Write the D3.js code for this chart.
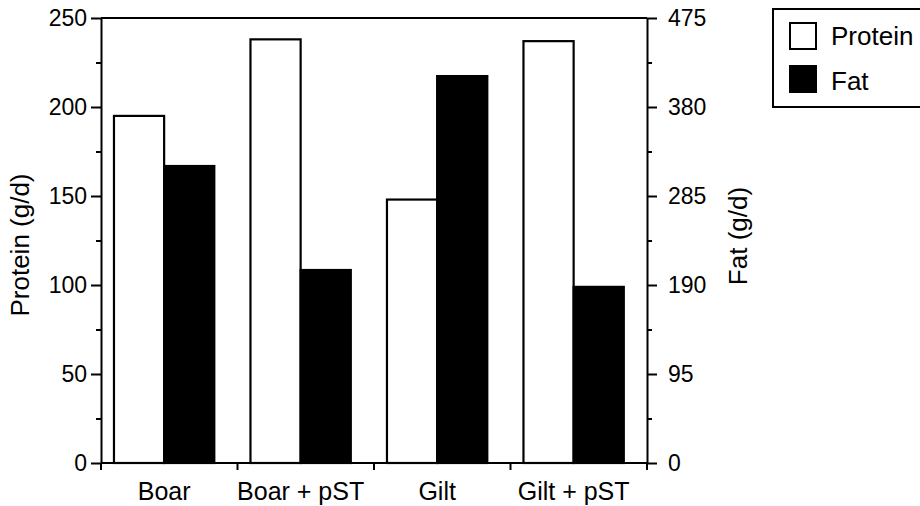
<!DOCTYPE html>
<html>
<head>
<meta charset="utf-8">
<script src="https://cdn.jsdelivr.net/npm/d3@7/dist/d3.min.js"></script>
<style>
  html, body { margin: 0; padding: 0; background: #fff; }
  svg { display: block; }
  text { font-family: "Liberation Sans", Arial, Helvetica, sans-serif; fill: #000; }
</style>
</head>
<body>
<svg id="chart" width="920" height="506"></svg>
<script>
// ---- data ----
const categories = ["Boar", "Boar + pST", "Gilt", "Gilt + pST"];
const seriesNames = ["Protein", "Fat"];
const proteinValues = [195, 238, 148, 237];   // g/d, left axis
const fatValues = [317, 206, 413, 188];       // g/d, right axis
const proteinTicks = [0, 50, 100, 150, 200, 250];
const proteinMinorTicks = [25, 75, 125, 175, 225];
const fatTicks = [0, 95, 190, 285, 380, 475];
const fatMinorTicks = [47.5, 142.5, 237.5, 332.5, 427.5];
const seriesFill = { Protein: "#ffffff", Fat: "#000000" };

// ---- layout ----
const svg = d3.select("#chart");
const pLeft = 101, pRight = 647, pTop = 18, pBottom = 463;
const FONT = "Liberation Sans, Arial, Helvetica, sans-serif";

const x0 = d3.scaleBand().domain(categories).range([pLeft, pRight]).padding(0);
const bw = x0.bandwidth();
const x1 = d3.scaleBand().domain(seriesNames).range([bw * 0.095, bw * 0.83]).padding(0);
const yP = d3.scaleLinear().domain([0, 250]).range([pBottom, pTop]);
const yF = d3.scaleLinear().domain([0, 475]).range([pBottom, pTop]);

const rows = categories.map((c, i) => ({ cat: c, Protein: proteinValues[i], Fat: fatValues[i] }));

// ---- bars ----
const g = svg.append("g");
rows.forEach(r => {
  seriesNames.forEach(s => {
    const yS = s === "Protein" ? yP : yF;
    g.append("rect")
      .attr("x", x0(r.cat) + x1(s))
      .attr("y", yS(r[s]))
      .attr("width", x1.bandwidth())
      .attr("height", pBottom - yS(r[s]))
      .attr("fill", seriesFill[s])
      .attr("stroke", "#000")
      .attr("stroke-width", 2.2);
  });
});

// ---- frame top ----
svg.append("line").attr("x1", pLeft).attr("x2", pRight).attr("y1", pTop).attr("y2", pTop)
  .attr("stroke", "#000").attr("stroke-width", 2);

// ---- left axis ----
svg.append("g").attr("transform", `translate(${pLeft},0)`)
  .call(d3.axisLeft(yP).tickValues(proteinTicks).tickSize(10).tickSizeOuter(0).tickPadding(4));
svg.append("g").attr("transform", `translate(${pLeft},0)`)
  .call(d3.axisLeft(yP).tickValues(proteinMinorTicks).tickSize(5).tickSizeOuter(0).tickFormat(""))
  .select(".domain").remove();

// ---- right axis ----
svg.append("g").attr("transform", `translate(${pRight},0)`)
  .call(d3.axisRight(yF).tickValues(fatTicks).tickSize(10).tickSizeOuter(0).tickPadding(11));
svg.append("g").attr("transform", `translate(${pRight},0)`)
  .call(d3.axisRight(yF).tickValues(fatMinorTicks).tickSize(5).tickSizeOuter(0).tickFormat(""))
  .select(".domain").remove();

svg.selectAll(".tick line, .domain").attr("stroke", "#000").attr("stroke-width", 2);
svg.selectAll(".tick text").attr("font-size", 23).style("font-family", FONT).attr("fill", "#000");

// ---- x axis ----
svg.append("line").attr("x1", pLeft).attr("x2", pRight).attr("y1", pBottom).attr("y2", pBottom)
  .attr("stroke", "#000").attr("stroke-width", 2);
const edges = categories.map(c => x0(c)).concat([pRight]);
svg.selectAll(".xtick").data(edges).enter().append("line")
  .attr("x1", d => d).attr("x2", d => d).attr("y1", pBottom).attr("y2", pBottom + 7)
  .attr("stroke", "#000").attr("stroke-width", 2);
svg.selectAll(".xlabel").data(categories).enter().append("text")
  .attr("x", c => x0(c) + (x1("Protein") + x1("Fat") + x1.bandwidth()) / 2)
  .attr("y", 500)
  .attr("text-anchor", "middle")
  .attr("font-size", 25)
  .text(c => c);

// ---- axis titles ----
svg.append("text")
  .attr("transform", `translate(29,245) rotate(-90)`)
  .attr("text-anchor", "middle").attr("font-size", 26)
  .text("Protein (g/d)");
svg.append("text")
  .attr("transform", `translate(747,236) rotate(-90)`)
  .attr("text-anchor", "middle").attr("font-size", 26)
  .text("Fat (g/d)");

// ---- legend ----
const lg = svg.append("g");
lg.append("rect").attr("x", 773).attr("y", 9).attr("width", 200).attr("height", 98)
  .attr("fill", "#fff").attr("stroke", "#000").attr("stroke-width", 2);
seriesNames.forEach((s, i) => {
  lg.append("rect").attr("x", 790).attr("y", 23 + i * 43).attr("width", 26).attr("height", 26)
    .attr("fill", seriesFill[s]).attr("stroke", "#000").attr("stroke-width", 2);
  lg.append("text").attr("x", 831).attr("y", 45 + i * 45).attr("font-size", 26).text(s);
});
</script>
</body>
</html>
